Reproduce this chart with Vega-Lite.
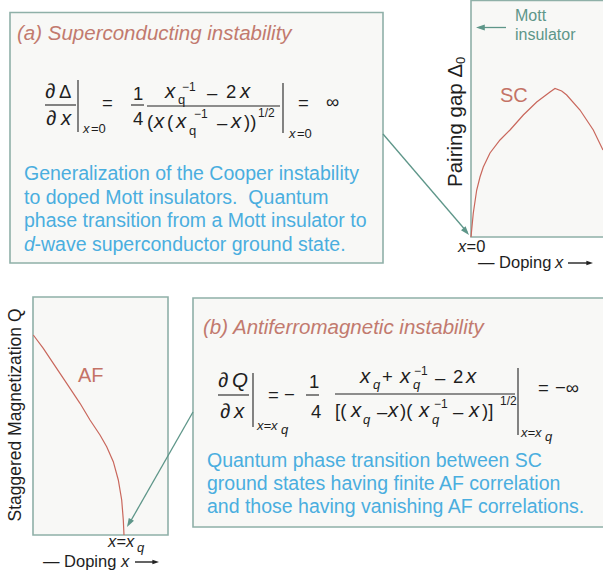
{
  "$schema": "https://vega.github.io/schema/vega-lite/v6.json",
  "width": 603,
  "height": 577,
  "padding": 0,
  "autosize": {"type": "none"},
  "background": "#ffffff",
  "config": {"view": {"stroke": null}, "axis": {"disable": true}, "legend": {"disable": true}},
  "datasets": {
    "boxes": [
      {"x": 10, "x2": 383, "y": 12.5, "y2": 263},
      {"x": 193, "x2": 606, "y": 298, "y2": 527},
      {"x": 471, "x2": 606, "y": 0.5, "y2": 237},
      {"x": 33, "x2": 168, "y": 297, "y2": 535}
    ],
    "curves": [
      {"s": "SC", "i": 0, "x": 471, "y": 237},
      {"s": "SC", "i": 1, "x": 473.3, "y": 213},
      {"s": "SC", "i": 2, "x": 476.7, "y": 190},
      {"s": "SC", "i": 3, "x": 480, "y": 177},
      {"s": "SC", "i": 4, "x": 483.3, "y": 167},
      {"s": "SC", "i": 5, "x": 490, "y": 153},
      {"s": "SC", "i": 6, "x": 500, "y": 140},
      {"s": "SC", "i": 7, "x": 510, "y": 130},
      {"s": "SC", "i": 8, "x": 523.3, "y": 115},
      {"s": "SC", "i": 9, "x": 536.7, "y": 102},
      {"s": "SC", "i": 10, "x": 550, "y": 92},
      {"s": "SC", "i": 11, "x": 555, "y": 88.5},
      {"s": "SC", "i": 12, "x": 561.7, "y": 91},
      {"s": "SC", "i": 13, "x": 566.7, "y": 95},
      {"s": "SC", "i": 14, "x": 580, "y": 110},
      {"s": "SC", "i": 15, "x": 593.3, "y": 130},
      {"s": "SC", "i": 16, "x": 603, "y": 150},
      {"s": "AF", "i": 0, "x": 33.3, "y": 335},
      {"s": "AF", "i": 1, "x": 43.3, "y": 348.3},
      {"s": "AF", "i": 2, "x": 53.3, "y": 363.3},
      {"s": "AF", "i": 3, "x": 66.7, "y": 383.3},
      {"s": "AF", "i": 4, "x": 80, "y": 403.3},
      {"s": "AF", "i": 5, "x": 90, "y": 420},
      {"s": "AF", "i": 6, "x": 100, "y": 435},
      {"s": "AF", "i": 7, "x": 106.7, "y": 446.7},
      {"s": "AF", "i": 8, "x": 113.3, "y": 461.7},
      {"s": "AF", "i": 9, "x": 118.3, "y": 480},
      {"s": "AF", "i": 10, "x": 121.7, "y": 500},
      {"s": "AF", "i": 11, "x": 123.3, "y": 520},
      {"s": "AF", "i": 12, "x": 124, "y": 535}
    ],
    "segs": [
      {"k": "eq", "x": 45, "y": 105, "x2": 76, "y2": 105},
      {"k": "eq", "x": 78, "y": 80, "x2": 78, "y2": 132},
      {"k": "eq", "x": 131, "y": 105, "x2": 144, "y2": 105},
      {"k": "eq", "x": 147, "y": 106, "x2": 280, "y2": 106},
      {"k": "eq", "x": 283, "y": 83, "x2": 283, "y2": 133},
      {"k": "eq", "x": 218, "y": 395, "x2": 249, "y2": 395},
      {"k": "eq", "x": 253, "y": 373, "x2": 253, "y2": 427},
      {"k": "eq", "x": 306, "y": 395, "x2": 319, "y2": 395},
      {"k": "eq", "x": 335, "y": 394, "x2": 515, "y2": 394},
      {"k": "eq", "x": 518, "y": 368, "x2": 518, "y2": 435},
      {"k": "black", "x": 568, "y": 263, "x2": 589, "y2": 263},
      {"k": "black", "x": 135, "y": 562, "x2": 155, "y2": 562},
      {"k": "teal", "x": 383, "y": 134, "x2": 467, "y2": 232},
      {"k": "teal", "x": 193, "y": 412, "x2": 129, "y2": 524},
      {"k": "teal", "x": 506, "y": 27.5, "x2": 479, "y2": 27.5}
    ],
    "heads": [
      {"k": "teal", "x": 469, "y": 235, "a": 139.6},
      {"k": "teal", "x": 127, "y": 527, "a": 209.9},
      {"k": "teal", "x": 476, "y": 27.5, "a": 270},
      {"k": "black", "x": 593, "y": 263, "a": 90},
      {"k": "black", "x": 159, "y": 562, "a": 90}
    ],
    "texts": [
      {"g": "title", "x": 17, "y": 40, "t": "(a) Superconducting instability"},
      {"g": "title", "x": 203, "y": 334, "t": "(b) Antiferromagnetic instability"},
      {"g": "blue", "x": 24, "y": 180, "t": "Generalization of the Cooper instability"},
      {"g": "blue", "x": 24, "y": 203.5, "t": "to doped Mott insulators.\u00a0 Quantum"},
      {"g": "blue", "x": 24, "y": 227, "t": "phase transition from a Mott insulator to"},
      {"g": "bluei", "x": 24, "y": 250.5, "t": "d"},
      {"g": "blue", "x": 34.5, "y": 250.5, "t": "-wave superconductor ground state."},
      {"g": "blue", "x": 207, "y": 466.5, "t": "Quantum phase transition between SC"},
      {"g": "blue", "x": 207, "y": 490, "t": "ground states having finite AF correlation"},
      {"g": "blue", "x": 207, "y": 513, "t": "and those having vanishing AF correlations."},
      {"g": "red", "x": 500, "y": 102, "t": "SC"},
      {"g": "red", "x": 78, "y": 382, "t": "AF"},
      {"g": "teal", "x": 515, "y": 21, "t": "Mott"},
      {"g": "teal", "x": 515, "y": 39.5, "t": "insulator"},
      {"g": "vl1", "x": 462, "y": 187, "t": "Pairing gap Δ"},
      {"g": "vsub", "x": 465, "y": 64, "t": "0"},
      {"g": "vl2", "x": 21, "y": 415, "t": "Staggered Magnetization Q"},
      {"g": "labi", "x": 458, "y": 252, "t": "x"},
      {"g": "lab", "x": 466.5, "y": 252, "t": "=0"},
      {"g": "lab", "x": 478, "y": 268, "t": "— Doping"},
      {"g": "labi", "x": 555, "y": 268, "t": "x"},
      {"g": "labi", "x": 108, "y": 547, "t": "x=x"},
      {"g": "labsub", "x": 137, "y": 552, "t": "q"},
      {"g": "lab", "x": 43, "y": 567, "t": "— Doping"},
      {"g": "labi", "x": 121, "y": 567, "t": "x"},

      {"g": "eqi", "x": 45, "y": 98, "t": "∂"},
      {"g": "eq", "x": 59, "y": 98, "t": "Δ"},
      {"g": "eqi", "x": 46, "y": 125, "t": "∂"},
      {"g": "eqi", "x": 61, "y": 125, "t": "x"},
      {"g": "smi", "x": 83, "y": 133, "t": "x"},
      {"g": "sm", "x": 91, "y": 133, "t": "=0"},
      {"g": "eq", "x": 102, "y": 109, "t": "="},
      {"g": "eq", "x": 133, "y": 100, "t": "1"},
      {"g": "eq", "x": 133, "y": 125, "t": "4"},
      {"g": "eqi", "x": 165, "y": 98, "t": "x"},
      {"g": "sm", "x": 178, "y": 104, "t": "q"},
      {"g": "sup", "x": 182, "y": 91, "t": "−1"},
      {"g": "eq", "x": 207, "y": 99, "t": "–"},
      {"g": "eq", "x": 226, "y": 98, "t": "2"},
      {"g": "eqi", "x": 240, "y": 98, "t": "x"},
      {"g": "eq", "x": 147, "y": 128, "t": "("},
      {"g": "eqi", "x": 154, "y": 128, "t": "x"},
      {"g": "eq", "x": 167, "y": 128, "t": "("},
      {"g": "eqi", "x": 176, "y": 128, "t": "x"},
      {"g": "sm", "x": 189, "y": 135, "t": "q"},
      {"g": "sup", "x": 194, "y": 118, "t": "−1"},
      {"g": "eq", "x": 217, "y": 129, "t": "–"},
      {"g": "eqi", "x": 231, "y": 128, "t": "x"},
      {"g": "eq", "x": 244, "y": 128, "t": "))"},
      {"g": "sup", "x": 258, "y": 117, "t": "1/2"},
      {"g": "smi", "x": 289, "y": 138, "t": "x"},
      {"g": "sm", "x": 297, "y": 138, "t": "=0"},
      {"g": "eq", "x": 298, "y": 109, "t": "="},
      {"g": "eq", "x": 326, "y": 108, "t": "∞"},

      {"g": "eqi", "x": 218, "y": 387, "t": "∂"},
      {"g": "eqi", "x": 232, "y": 387, "t": "Q"},
      {"g": "eqi", "x": 220, "y": 418, "t": "∂"},
      {"g": "eqi", "x": 234, "y": 418, "t": "x"},
      {"g": "smi", "x": 257, "y": 430, "t": "x=x"},
      {"g": "smi", "x": 281, "y": 434, "t": "q"},
      {"g": "eq", "x": 268, "y": 401, "t": "="},
      {"g": "eq", "x": 284, "y": 401, "t": "−"},
      {"g": "eq", "x": 309, "y": 388, "t": "1"},
      {"g": "eq", "x": 311, "y": 418, "t": "4"},
      {"g": "eqi", "x": 360, "y": 383, "t": "x"},
      {"g": "smi", "x": 373, "y": 389, "t": "q"},
      {"g": "eq", "x": 382, "y": 383, "t": "+"},
      {"g": "eqi", "x": 400, "y": 383, "t": "x"},
      {"g": "smi", "x": 413, "y": 389, "t": "q"},
      {"g": "sup", "x": 414, "y": 375, "t": "−1"},
      {"g": "eq", "x": 435, "y": 384, "t": "–"},
      {"g": "eq", "x": 453, "y": 383, "t": "2"},
      {"g": "eqi", "x": 466, "y": 383, "t": "x"},
      {"g": "eq", "x": 335, "y": 417, "t": "[("},
      {"g": "eqi", "x": 351, "y": 417, "t": "x"},
      {"g": "smi", "x": 363, "y": 424, "t": "q"},
      {"g": "eq", "x": 377, "y": 418, "t": "–"},
      {"g": "eqi", "x": 388, "y": 417, "t": "x"},
      {"g": "eq", "x": 400, "y": 417, "t": ")("},
      {"g": "eqi", "x": 419, "y": 417, "t": "x"},
      {"g": "smi", "x": 432, "y": 424, "t": "q"},
      {"g": "sup", "x": 434, "y": 408, "t": "−1"},
      {"g": "eq", "x": 453, "y": 418, "t": "–"},
      {"g": "eqi", "x": 469, "y": 417, "t": "x"},
      {"g": "eq", "x": 482, "y": 417, "t": ")]"},
      {"g": "sup", "x": 500, "y": 405, "t": "1/2"},
      {"g": "smi", "x": 521, "y": 437, "t": "x=x"},
      {"g": "smi", "x": 545, "y": 441, "t": "q"},
      {"g": "eq", "x": 538, "y": 394, "t": "="},
      {"g": "eq", "x": 555, "y": 394, "t": "−∞"}
    ]
  },
  "encoding": {
    "x": {"field": "x", "type": "quantitative", "scale": {"domain": [0, 603], "range": [0, 603], "nice": false, "zero": false}},
    "y": {"field": "y", "type": "quantitative", "scale": {"domain": [0, 577], "range": [0, 577], "nice": false, "zero": false}}
  },
  "layer": [
    {
      "data": {"name": "boxes"},
      "mark": {"type": "rect", "fill": "#f8f8f6", "stroke": "#8fb0a8", "strokeWidth": 1.6, "clip": true},
      "encoding": {"x2": {"field": "x2"}, "y2": {"field": "y2"}}
    },
    {
      "data": {"name": "curves"},
      "mark": {"type": "line", "color": "#c9675c", "strokeWidth": 1.2, "clip": true},
      "encoding": {"detail": {"field": "s"}, "order": {"field": "i", "type": "quantitative"}}
    },
    {
      "data": {"name": "segs"},
      "transform": [{"filter": "datum.k == 'eq'"}],
      "mark": {"type": "rule", "color": "#222222", "strokeWidth": 1.1},
      "encoding": {"x2": {"field": "x2"}, "y2": {"field": "y2"}}
    },
    {
      "data": {"name": "segs"},
      "transform": [{"filter": "datum.k == 'black'"}],
      "mark": {"type": "rule", "color": "#222222", "strokeWidth": 1.4},
      "encoding": {"x2": {"field": "x2"}, "y2": {"field": "y2"}}
    },
    {
      "data": {"name": "segs"},
      "transform": [{"filter": "datum.k == 'teal'"}],
      "mark": {"type": "rule", "color": "#5e9689", "strokeWidth": 1.3},
      "encoding": {"x2": {"field": "x2"}, "y2": {"field": "y2"}}
    },
    {
      "data": {"name": "heads"},
      "transform": [{"filter": "datum.k == 'teal'"}],
      "mark": {"type": "point", "shape": "M0,0L-0.75,2.2L0.75,2.2Z", "filled": true, "size": 64, "color": "#5e9689", "opacity": 1, "strokeWidth": 0},
      "encoding": {"angle": {"field": "a", "type": "quantitative", "scale": null}}
    },
    {
      "data": {"name": "heads"},
      "transform": [{"filter": "datum.k == 'black'"}],
      "mark": {"type": "point", "shape": "M0,0L-0.75,2.2L0.75,2.2Z", "filled": true, "size": 36, "color": "#222222", "opacity": 1, "strokeWidth": 0},
      "encoding": {"angle": {"field": "a", "type": "quantitative", "scale": null}}
    },
    {
      "data": {"name": "texts"},
      "transform": [{"filter": "datum.g == 'title'"}],
      "mark": {"type": "text", "align": "left", "baseline": "alphabetic", "font": "Liberation Sans", "fontSize": 20.5, "fontStyle": "italic", "color": "#c27a6e"},
      "encoding": {"text": {"field": "t"}}
    },
    {
      "data": {"name": "texts"},
      "transform": [{"filter": "datum.g == 'blue'"}],
      "mark": {"type": "text", "align": "left", "baseline": "alphabetic", "font": "Liberation Sans", "fontSize": 19.5, "color": "#4aaedf"},
      "encoding": {"text": {"field": "t"}}
    },
    {
      "data": {"name": "texts"},
      "transform": [{"filter": "datum.g == 'bluei'"}],
      "mark": {"type": "text", "align": "left", "baseline": "alphabetic", "font": "Liberation Sans", "fontSize": 19.5, "fontStyle": "italic", "color": "#4aaedf"},
      "encoding": {"text": {"field": "t"}}
    },
    {
      "data": {"name": "texts"},
      "transform": [{"filter": "datum.g == 'red'"}],
      "mark": {"type": "text", "align": "left", "baseline": "alphabetic", "font": "Liberation Sans", "fontSize": 20, "color": "#c47366"},
      "encoding": {"text": {"field": "t"}}
    },
    {
      "data": {"name": "texts"},
      "transform": [{"filter": "datum.g == 'teal'"}],
      "mark": {"type": "text", "align": "left", "baseline": "alphabetic", "font": "Liberation Sans", "fontSize": 16, "color": "#5e9689"},
      "encoding": {"text": {"field": "t"}}
    },
    {
      "data": {"name": "texts"},
      "transform": [{"filter": "datum.g == 'vl1'"}],
      "mark": {"type": "text", "align": "left", "baseline": "alphabetic", "angle": 270, "font": "Liberation Sans", "fontSize": 20.5, "color": "#1e1e1e"},
      "encoding": {"text": {"field": "t"}}
    },
    {
      "data": {"name": "texts"},
      "transform": [{"filter": "datum.g == 'vsub'"}],
      "mark": {"type": "text", "align": "left", "baseline": "alphabetic", "angle": 270, "font": "Liberation Sans", "fontSize": 13, "color": "#1e1e1e"},
      "encoding": {"text": {"field": "t"}}
    },
    {
      "data": {"name": "texts"},
      "transform": [{"filter": "datum.g == 'vl2'"}],
      "mark": {"type": "text", "align": "center", "baseline": "alphabetic", "angle": 270, "font": "Liberation Sans", "fontSize": 17.5, "color": "#1e1e1e"},
      "encoding": {"text": {"field": "t"}}
    },
    {
      "data": {"name": "texts"},
      "transform": [{"filter": "datum.g == 'lab'"}],
      "mark": {"type": "text", "align": "left", "baseline": "alphabetic", "font": "Liberation Sans", "fontSize": 16.5, "color": "#1e1e1e"},
      "encoding": {"text": {"field": "t"}}
    },
    {
      "data": {"name": "texts"},
      "transform": [{"filter": "datum.g == 'labi'"}],
      "mark": {"type": "text", "align": "left", "baseline": "alphabetic", "font": "Liberation Sans", "fontSize": 16.5, "fontStyle": "italic", "color": "#1e1e1e"},
      "encoding": {"text": {"field": "t"}}
    },
    {
      "data": {"name": "texts"},
      "transform": [{"filter": "datum.g == 'labsub'"}],
      "mark": {"type": "text", "align": "left", "baseline": "alphabetic", "font": "Liberation Sans", "fontSize": 13, "fontStyle": "italic", "color": "#1e1e1e"},
      "encoding": {"text": {"field": "t"}}
    },
    {
      "data": {"name": "texts"},
      "transform": [{"filter": "datum.g == 'eq'"}],
      "mark": {"type": "text", "align": "left", "baseline": "alphabetic", "font": "Liberation Sans", "fontSize": 18.5, "color": "#1e1e1e"},
      "encoding": {"text": {"field": "t"}}
    },
    {
      "data": {"name": "texts"},
      "transform": [{"filter": "datum.g == 'eqi'"}],
      "mark": {"type": "text", "align": "left", "baseline": "alphabetic", "font": "Liberation Sans", "fontSize": 20.5, "fontStyle": "italic", "color": "#1e1e1e"},
      "encoding": {"text": {"field": "t"}}
    },
    {
      "data": {"name": "texts"},
      "transform": [{"filter": "datum.g == 'sm'"}],
      "mark": {"type": "text", "align": "left", "baseline": "alphabetic", "font": "Liberation Sans", "fontSize": 13, "color": "#1e1e1e"},
      "encoding": {"text": {"field": "t"}}
    },
    {
      "data": {"name": "texts"},
      "transform": [{"filter": "datum.g == 'smi'"}],
      "mark": {"type": "text", "align": "left", "baseline": "alphabetic", "font": "Liberation Sans", "fontSize": 13, "fontStyle": "italic", "color": "#1e1e1e"},
      "encoding": {"text": {"field": "t"}}
    },
    {
      "data": {"name": "texts"},
      "transform": [{"filter": "datum.g == 'sup'"}],
      "mark": {"type": "text", "align": "left", "baseline": "alphabetic", "font": "Liberation Sans", "fontSize": 12, "color": "#1e1e1e"},
      "encoding": {"text": {"field": "t"}}
    }
  ]
}
